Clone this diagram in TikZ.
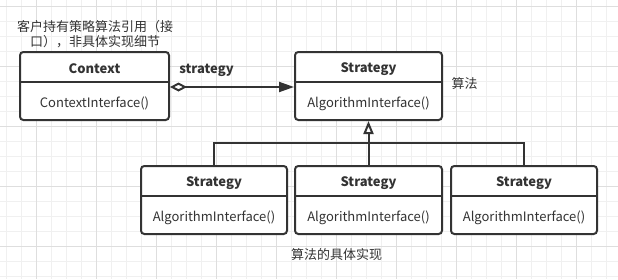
\documentclass[tikz,border=0pt]{standalone}
\usepackage{fontspec}
\setmainfont{Noto Sans CJK SC}
\usetikzlibrary{arrows.meta}
\definecolor{ink}{HTML}{333333}
\definecolor{gridminor}{HTML}{F0F0F0}
\definecolor{gridmajor}{HTML}{DEDEDE}
\tikzset{
  cls/.style={draw=ink, line width=1.5pt, rounded corners=2.5pt, inner sep=0pt, fill=white},
  ttl/.style={font=\fontsize{9.75}{11}\selectfont\bfseries, text=ink, inner sep=0pt},
  bdy/.style={font=\fontsize{9.75}{11}\selectfont, text=ink, inner sep=0pt},
  lbl/.style={font=\fontsize{9.75}{11.25}\selectfont, text=ink, inner sep=0pt},
  conn/.style={draw=ink, line width=1.5pt},
}
\begin{document}
\begin{tikzpicture}[x=0.75pt, y=-0.75pt]
\useasboundingbox (0,0) rectangle (618,279);
\fill[white] (0,0) rectangle (618,279);
% grid
\foreach \x in {6,21,...,618} \draw[gridminor, line width=0.75pt] (\x,0) -- (\x,279);
\foreach \y in {6,21,...,279} \draw[gridminor, line width=0.75pt] (0,\y) -- (618,\y);
\foreach \x in {36,96,...,618} \draw[gridmajor, line width=0.75pt] (\x,0) -- (\x,279);
\foreach \y in {6,66,...,279} \draw[gridmajor, line width=0.75pt] (0,\y) -- (618,\y);

% classes
\node[cls, minimum width=149*0.75pt, minimum height=68*0.75pt] (ctx) at (94.5,86) {};
\node[cls, minimum width=147*0.75pt, minimum height=68*0.75pt] (stop) at (368.5,86) {};
\node[cls, minimum width=146*0.75pt, minimum height=68*0.75pt] (s1) at (214,200) {};
\node[cls, minimum width=147*0.75pt, minimum height=68*0.75pt] (s2) at (368.5,200) {};
\node[cls, minimum width=146*0.75pt, minimum height=68*0.75pt] (s3) at (524,200) {};

% dividers
\foreach \n/\y in {ctx/82, stop/82, s1/196, s2/196, s3/196}
  \draw[conn] (\n.west |- 0,\y) -- (\n.east |- 0,\y);

% texts
\node[ttl] (ctxt) at (94.5,69) {Context};
\node[bdy] (ctxb) at (94.5,103.5) {ContextInterface()};
\node[ttl] (stopt) at (368.5,69) {Strategy};
\node[bdy] (stopb) at (368.5,103.5) {AlgorithmInterface()};
\node[ttl] (s1t) at (214,183) {Strategy};
\node[bdy] (s1b) at (214,217.5) {AlgorithmInterface()};
\node[ttl] (s2t) at (368.5,183) {Strategy};
\node[bdy] (s2b) at (368.5,217.5) {AlgorithmInterface()};
\node[ttl] (s3t) at (524,183) {Strategy};
\node[bdy] (s3b) at (524,217.5) {AlgorithmInterface()};

% labels
\node[lbl, align=center] (note) at (95,34) {客户持有策略算法引用（接\\口），非具体实现细节};
\node[ttl] (strat) at (206.5,70) {strategy};
\node[lbl] (alg) at (464.5,84) {算法};
\node[lbl] (impl) at (336.5,255) {算法的具体实现};

% connectors
\draw[conn, {Diamond[open, length=17*0.75pt, width=9*0.75pt, line width=1.5pt]}-{Triangle[length=15*0.75pt, width=10*0.75pt]}]
  (ctx.east |- 0,87) -- (stop.west |- 0,87);
\coordinate (bus) at (368.5,143);
\draw[conn, -{Triangle[open, length=13*0.75pt, width=10*0.75pt, line width=1.5pt]}] (s2.north) -- (stop.south);
\draw[conn] (s1.north) |- (bus) -| (s3.north);
\end{tikzpicture}
\end{document}
